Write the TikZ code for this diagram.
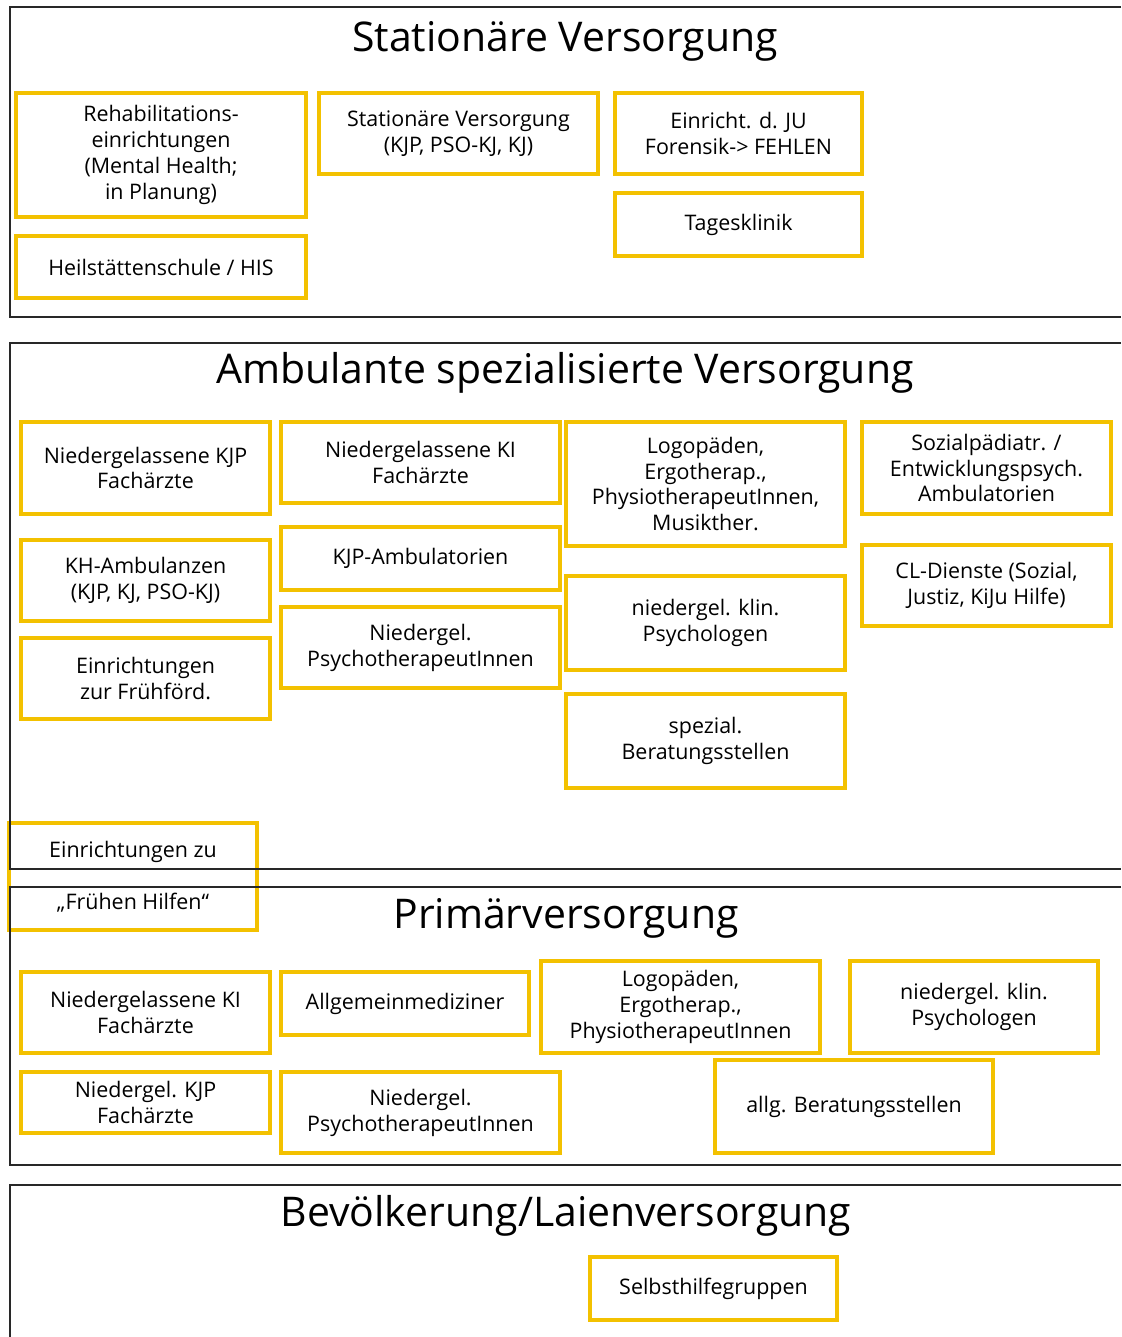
\documentclass[tikz,border=0pt]{standalone}
\usepackage{fontspec}
\setmainfont{Open Sans}
\usepackage{xcolor}
\definecolor{boxyellow}{RGB}{243,193,0}
\definecolor{framegray}{RGB}{40,40,40}
\newcommand{\boxfont}{\fontsize{12.2pt}{14.75pt}\selectfont}
\newcommand{\titlefont}{\fontsize{23.3pt}{28pt}\selectfont}

\begin{document}
\begin{tikzpicture}[x=0.02cm,y=-0.02cm,
  ybox/.style={draw=boxyellow,line width=1.8pt,inner sep=0pt,align=center,font=\boxfont},
  sectitle/.style={anchor=base,inner sep=0pt,font=\titlefont},
  frame/.style={draw=framegray,line width=1pt}]
\useasboundingbox (0,0) rectangle (1121,1337);

% stationaere Versorgung
\foreach \nm/\xa/\ya/\xb/\yb/\txt in {
  reha/16/93/306/217/{Rehabilitations-\\einrichtungen\\(Mental Health;\\in Planung)},
  stat/319/93/598/174/{Stationäre Versorgung\\(KJP, PSO-KJ, KJ)},
  ju/615/93/862/174/{Einricht. d. JU\\Forensik-> FEHLEN},
  tages/615/193/862/256/{Tagesklinik},
  his/16/236/306/298/{Heilstättenschule / HIS}}
  \node[ybox,minimum width={(\xb-\xa)*0.02cm},minimum height={(\yb-\ya)*0.02cm}]
    (\nm) at ({(\xa+\xb)/2},{(\ya+\yb)/2}) {\txt};

% ambulante spezialisierte Versorgung
\foreach \nm/\xa/\ya/\xb/\yb/\txt in {
  nkjp/21/422/270/514/{Niedergelassene KJP\\Fachärzte},
  nki/281/422/560/503/{Niedergelassene KI\\Fachärzte},
  logo/566/422/845/546/{Logopäden,\\Ergotherap.,\\PhysiotherapeutInnen,\\Musikther.},
  sozped/862/422/1111/514/{Sozialpädiatr. /\\Entwicklungspsych.\\Ambulatorien},
  kham/21/540/270/621/{KH-Ambulanzen\\(KJP, KJ, PSO-KJ)},
  kjpamb/281/527/560/590/{KJP-Ambulatorien},
  psych/566/576/845/670/{niedergel. klin.\\Psychologen},
  cl/862/545/1111/626/{CL-Dienste (Sozial,\\Justiz, KiJu Hilfe)},
  fruef/21/638/270/719/{Einrichtungen\\zur Frühförd.},
  ptherap/281/607/560/688/{Niedergel.\\PsychotherapeutInnen},
  spez/566/694/845/788/{spezial.\\Beratungsstellen},
  fhilf/9/823/257/930/{Einrichtungen zu\\[14.75pt]„Frühen Hilfen“}}
  \node[ybox,minimum width={(\xb-\xa)*0.02cm},minimum height={(\yb-\ya)*0.02cm}]
    (\nm) at ({(\xa+\xb)/2},{(\ya+\yb)/2}) {\txt};

% Primaerversorgung
\foreach \nm/\xa/\ya/\xb/\yb/\txt in {
  pki/21/972/270/1053/{Niedergelassene KI\\Fachärzte},
  allg/281/972/529/1035/{Allgemeinmediziner},
  plogo/541/961/820/1053/{Logopäden,\\Ergotherap.,\\PhysiotherapeutInnen},
  ppsych/850/961/1098/1053/{niedergel. klin.\\Psychologen},
  pkjp/21/1072/270/1133/{Niedergel. KJP\\Fachärzte},
  pther/281/1072/560/1153/{Niedergel.\\PsychotherapeutInnen},
  pberat/715/1060/993/1153/{allg. Beratungsstellen}}
  \node[ybox,minimum width={(\xb-\xa)*0.02cm},minimum height={(\yb-\ya)*0.02cm}]
    (\nm) at ({(\xa+\xb)/2},{(\ya+\yb)/2}) {\txt};

% Laienversorgung
\node[ybox,minimum width=4.94cm,minimum height=1.26cm] (shg) at (713.5,1288.5) {Selbsthilfegruppen};

% section frames, open to the right
\draw[frame] (1121,7) -| (10,317) -- (1121,317);
\draw[frame] (1121,343) -| (10,869) -- (1121,869);
\draw[frame] (1121,887) -| (10,1165) -- (1121,1165);
\draw[frame] (1121,1185) -| (10,1337);

\node[sectitle] (t1) at (565,52) {Stationäre Versorgung};
\node[sectitle] (t2) at (565,384) {Ambulante spezialisierte Versorgung};
\node[sectitle] (t3) at (566,928) {Primärversorgung};
\node[sectitle] (t4) at (566,1226) {Bevölkerung/Laienversorgung};
\end{tikzpicture}
\end{document}
